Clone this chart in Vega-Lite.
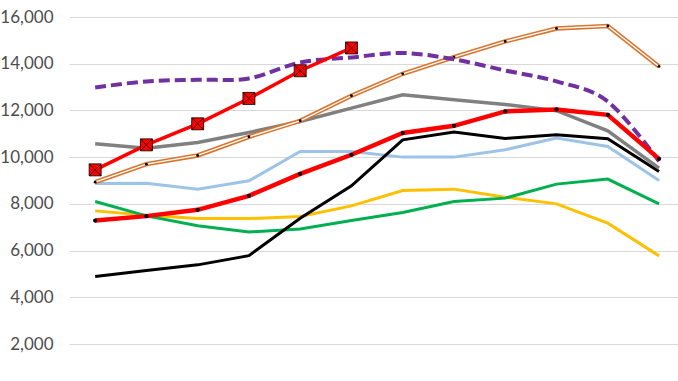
{
  "$schema": "https://vega.github.io/schema/vega-lite/v6.json",
  "width": 609,
  "height": 364,
  "autosize": {"type": "none"},
  "padding": {"left": 69, "top": 17, "right": 0, "bottom": 0},
  "background": "#ffffff",
  "config": {"view": {"stroke": null}},
  "data": {"values": [
    {"s":"rx","x":1,"v":9460},{"s":"rx","x":2,"v":10530},{"s":"rx","x":3,"v":11430},{"s":"rx","x":4,"v":12515},{"s":"rx","x":5,"v":13700},{"s":"rx","x":6,"v":14675},
    {"s":"pu","x":1,"v":12985},{"s":"pu","x":2,"v":13245},{"s":"pu","x":3,"v":13315},{"s":"pu","x":4,"v":13370},{"s":"pu","x":5,"v":14055},{"s":"pu","x":6,"v":14270},{"s":"pu","x":7,"v":14460},{"s":"pu","x":8,"v":14190},{"s":"pu","x":9,"v":13710},{"s":"pu","x":10,"v":13245},{"s":"pu","x":11,"v":12385},{"s":"pu","x":12,"v":9830},
    {"s":"or","x":1,"v":8935},{"s":"or","x":2,"v":9705},{"s":"or","x":3,"v":10075},{"s":"or","x":4,"v":10875},{"s":"or","x":5,"v":11560},{"s":"or","x":6,"v":12630},{"s":"or","x":7,"v":13570},{"s":"or","x":8,"v":14285},{"s":"or","x":9,"v":14955},{"s":"or","x":10,"v":15510},{"s":"or","x":11,"v":15615},{"s":"or","x":12,"v":13885},
    {"s":"gr","x":1,"v":10575},{"s":"gr","x":2,"v":10390},{"s":"gr","x":3,"v":10630},{"s":"gr","x":4,"v":11060},{"s":"gr","x":5,"v":11530},{"s":"gr","x":6,"v":12100},{"s":"gr","x":7,"v":12670},{"s":"gr","x":8,"v":12460},{"s":"gr","x":9,"v":12255},{"s":"gr","x":10,"v":11990},{"s":"gr","x":11,"v":11130},{"s":"gr","x":12,"v":9535},
    {"s":"rd","x":1,"v":7290},{"s":"rd","x":2,"v":7480},{"s":"rd","x":3,"v":7750},{"s":"rd","x":4,"v":8350},{"s":"rd","x":5,"v":9290},{"s":"rd","x":6,"v":10105},{"s":"rd","x":7,"v":11035},{"s":"rd","x":8,"v":11345},{"s":"rd","x":9,"v":11960},{"s":"rd","x":10,"v":12045},{"s":"rd","x":11,"v":11815},{"s":"rd","x":12,"v":9930},
    {"s":"bk","x":1,"v":4895},{"s":"bk","x":2,"v":5150},{"s":"bk","x":3,"v":5395},{"s":"bk","x":4,"v":5790},{"s":"bk","x":5,"v":7390},{"s":"bk","x":6,"v":8775},{"s":"bk","x":7,"v":10745},{"s":"bk","x":8,"v":11075},{"s":"bk","x":9,"v":10805},{"s":"bk","x":10,"v":10960},{"s":"bk","x":11,"v":10790},{"s":"bk","x":12,"v":9390},
    {"s":"lb","x":1,"v":8875},{"s":"lb","x":2,"v":8890},{"s":"lb","x":3,"v":8635},{"s":"lb","x":4,"v":8990},{"s":"lb","x":5,"v":10245},{"s":"lb","x":6,"v":10245},{"s":"lb","x":7,"v":10005},{"s":"lb","x":8,"v":10005},{"s":"lb","x":9,"v":10320},{"s":"lb","x":10,"v":10820},{"s":"lb","x":11,"v":10460},{"s":"lb","x":12,"v":9005},
    {"s":"ye","x":1,"v":7705},{"s":"ye","x":2,"v":7520},{"s":"ye","x":3,"v":7375},{"s":"ye","x":4,"v":7375},{"s":"ye","x":5,"v":7465},{"s":"ye","x":6,"v":7920},{"s":"ye","x":7,"v":8575},{"s":"ye","x":8,"v":8635},{"s":"ye","x":9,"v":8290},{"s":"ye","x":10,"v":8005},{"s":"ye","x":11,"v":7180},{"s":"ye","x":12,"v":5780},
    {"s":"gn","x":1,"v":8105},{"s":"gn","x":2,"v":7490},{"s":"gn","x":3,"v":7065},{"s":"gn","x":4,"v":6805},{"s":"gn","x":5,"v":6925},{"s":"gn","x":6,"v":7290},{"s":"gn","x":7,"v":7635},{"s":"gn","x":8,"v":8105},{"s":"gn","x":9,"v":8250},{"s":"gn","x":10,"v":8850},{"s":"gn","x":11,"v":9065},{"s":"gn","x":12,"v":8005}
  ]},
  "encoding": {
    "x": {"field": "x", "type": "quantitative", "scale": {"domain": [0.49, 12.37], "nice": false, "zero": false}, "axis": null},
    "y": {"field": "v", "type": "quantitative", "scale": {"domain": [426, 16000], "nice": false, "zero": false},
      "axis": {"values": [2000, 4000, 6000, 8000, 10000, 12000, 14000, 16000], "format": ",.0f", "grid": true, "gridColor": "#d9d9d9", "gridWidth": 1, "domain": false, "ticks": false, "labelPadding": 16, "labelFont": "Lato", "labelFontSize": 17, "labelColor": "#4d4d4d", "title": null}}
  },
  "layer": [
    {"transform": [{"filter": "datum.s === 'ye'"}], "mark": {"type": "line", "color": "#ffc000", "strokeWidth": 3}},
    {"transform": [{"filter": "datum.s === 'gn'"}], "mark": {"type": "line", "color": "#00b050", "strokeWidth": 3}},
    {"transform": [{"filter": "datum.s === 'lb'"}], "mark": {"type": "line", "color": "#9dc3e6", "strokeWidth": 3}},
    {"transform": [{"filter": "datum.s === 'bk'"}], "mark": {"type": "line", "color": "#000000", "strokeWidth": 3}},
    {"transform": [{"filter": "datum.s === 'gr'"}], "mark": {"type": "line", "color": "#808080", "strokeWidth": 3.5}},
    {"transform": [{"filter": "datum.s === 'or'"}], "mark": {"type": "line", "color": "#d9742f", "strokeWidth": 4.5}},
    {"transform": [{"filter": "datum.s === 'or'"}], "mark": {"type": "line", "color": "#ffffff", "strokeWidth": 1.3}},
    {"transform": [{"filter": "datum.s === 'or'"}], "mark": {"type": "point", "shape": "circle", "filled": true, "color": "#000000", "size": 8, "opacity": 1}},
    {"transform": [{"filter": "datum.s === 'pu'"}], "mark": {"type": "line", "color": "#7030a0", "strokeWidth": 4, "strokeDash": [11, 5], "interpolate": "cardinal"}},
    {"transform": [{"filter": "datum.s === 'rd'"}], "mark": {"type": "line", "color": "#ff0000", "strokeWidth": 4.5}},
    {"transform": [{"filter": "datum.s === 'rd'"}], "mark": {"type": "point", "shape": "circle", "filled": true, "color": "#000000", "size": 18, "opacity": 1}},
    {"transform": [{"filter": "datum.s === 'rx'"}], "mark": {"type": "line", "color": "#ff0000", "strokeWidth": 3.5}},
    {"transform": [{"filter": "datum.s === 'rx'"}], "mark": {"type": "point", "shape": "square", "filled": true, "fill": "#ff0000", "stroke": "#000000", "strokeWidth": 0.8, "size": 144, "opacity": 1, "fillOpacity": 1}},
    {"transform": [{"filter": "datum.s === 'rx'"}], "mark": {"type": "point", "shape": "M-1,-1L1,1M-1,1L1,-1", "filled": false, "stroke": "#000000", "strokeWidth": 0.8, "size": 144, "opacity": 1}}
  ]
}
